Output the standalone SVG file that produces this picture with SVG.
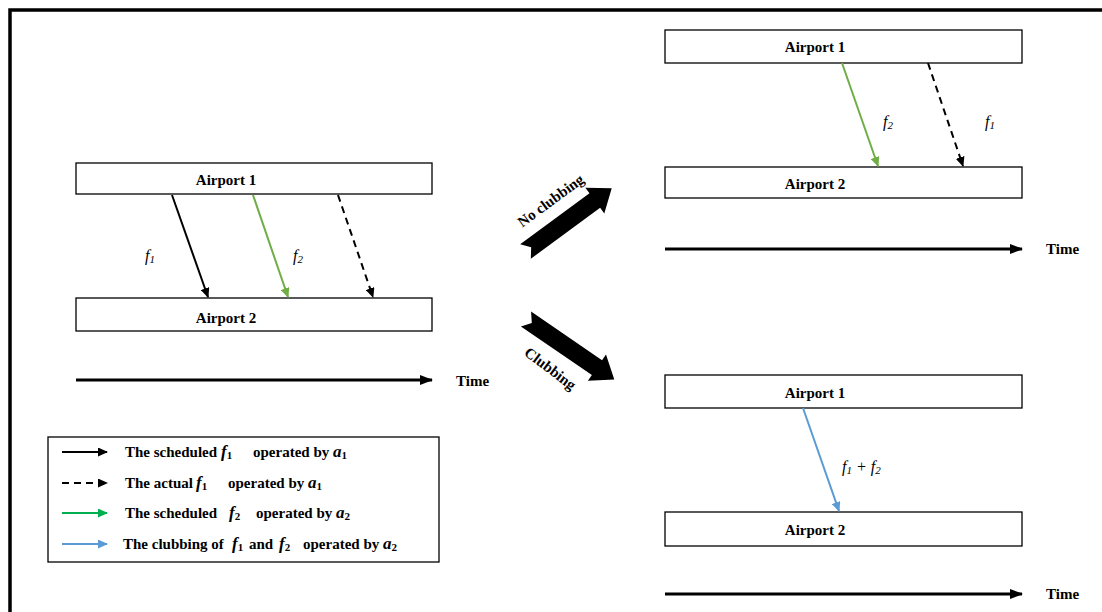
<svg xmlns="http://www.w3.org/2000/svg" width="1102" height="612" viewBox="0 0 1102 612">
<defs>
<style>
.box{fill:#fff;stroke:#000;stroke-width:1.3}
.lbl{font-family:"Liberation Serif","Times New Roman",serif;font-weight:bold;font-size:15px;fill:#000}
.math{font-family:"Liberation Serif","Times New Roman",serif;font-style:italic;font-size:16px;fill:#000}
.leg{font-family:"Liberation Serif","Times New Roman",serif;font-weight:bold;font-size:15px;fill:#000}
.mb{font-style:italic;font-weight:bold;font-size:17px}
.sub{font-size:11px}
.fl{fill:none;stroke-width:2}
.time{stroke:#000;stroke-width:3.2;fill:none}
</style>
<marker id="hk" markerUnits="userSpaceOnUse" markerWidth="10" markerHeight="9" refX="9" refY="4.5" orient="auto"><path d="M0,0 L10,4.5 L0,9 z" fill="#000"/></marker>
<marker id="hg" markerUnits="userSpaceOnUse" markerWidth="10" markerHeight="9" refX="9" refY="4.5" orient="auto"><path d="M0,0 L10,4.5 L0,9 z" fill="#70AD47"/></marker>
<marker id="hg2" markerUnits="userSpaceOnUse" markerWidth="10" markerHeight="9" refX="9" refY="4.5" orient="auto"><path d="M0,0 L10,4.5 L0,9 z" fill="#00B050"/></marker>
<marker id="hb" markerUnits="userSpaceOnUse" markerWidth="10" markerHeight="9" refX="9" refY="4.5" orient="auto"><path d="M0,0 L10,4.5 L0,9 z" fill="#5B9BD5"/></marker>
<marker id="ht" markerUnits="userSpaceOnUse" markerWidth="13" markerHeight="10" refX="12" refY="5" orient="auto"><path d="M0,0 L13,5 L0,10 z" fill="#000"/></marker>
</defs>
<rect x="10" y="10" width="1110" height="620" fill="none" stroke="#000" stroke-width="3.5"/>

<!-- Left panel -->
<g id="L-airport1"><rect class="box" x="76" y="163" width="356" height="31"/><text class="lbl" x="226" y="185" text-anchor="middle">Airport 1</text></g>
<g id="L-airport2"><rect class="box" x="76" y="298" width="356" height="33"/><text class="lbl" x="226" y="323" text-anchor="middle">Airport 2</text></g>
<g id="L-time"><line class="time" x1="76" y1="380" x2="432" y2="380" marker-end="url(#ht)"/><text class="lbl" x="456" y="386">Time</text></g>

<!-- Right top -->
<g id="RT-airport1"><rect class="box" x="665" y="30" width="357" height="33"/><text class="lbl" x="815" y="52" text-anchor="middle">Airport 1</text></g>
<g id="RT-airport2"><rect class="box" x="665" y="167" width="357" height="31"/><text class="lbl" x="815" y="189" text-anchor="middle">Airport 2</text></g>
<g id="RT-time"><line class="time" x1="665" y1="249" x2="1022" y2="249" marker-end="url(#ht)"/><text class="lbl" x="1046" y="254">Time</text></g>

<!-- Right bottom -->
<g id="RB-airport1"><rect class="box" x="665" y="375" width="357" height="33"/><text class="lbl" x="815" y="398" text-anchor="middle">Airport 1</text></g>
<g id="RB-airport2"><rect class="box" x="665" y="512" width="357" height="34"/><text class="lbl" x="815" y="535" text-anchor="middle">Airport 2</text></g>
<g id="RB-time"><line class="time" x1="665" y1="594" x2="1022" y2="594" marker-end="url(#ht)"/><text class="lbl" x="1046" y="599">Time</text></g>

<!-- Big arrows -->
<g id="no-clubbing">
<polygon transform="translate(525.5,251.5) rotate(-36.3)" points="0,-9 86,-9 86,-16 107,0 86,16 86,9 0,9 7,0" fill="#000"/>
<text class="lbl" transform="translate(553.7,204.6) rotate(-36.3)" text-anchor="middle">No clubbing</text>
</g>
<g id="clubbing">
<polygon transform="translate(526,319) rotate(34.4)" points="0,-9 86,-9 86,-16 107,0 86,16 86,9 0,9 7,0" fill="#000"/>
<text class="lbl" transform="translate(547.3,372.6) rotate(37)" text-anchor="middle">Clubbing</text>
</g>

<!-- Connectors -->
<g id="connectors">
<line class="fl" x1="172" y1="195" x2="208" y2="297" stroke="#000" marker-end="url(#hk)"/>
<line class="fl" x1="253" y1="195" x2="288" y2="297" stroke="#70AD47" marker-end="url(#hg)"/>
<line class="fl" x1="338" y1="195" x2="373" y2="297" stroke="#000" stroke-dasharray="7,5" marker-end="url(#hk)"/>
<line class="fl" x1="842" y1="63" x2="878" y2="166" stroke="#70AD47" marker-end="url(#hg)"/>
<line class="fl" x1="928" y1="63" x2="963" y2="166" stroke="#000" stroke-dasharray="7,5" marker-end="url(#hk)"/>
<line class="fl" x1="803" y1="408" x2="839" y2="511" stroke="#5B9BD5" marker-end="url(#hb)"/>
</g>

<!-- Flight labels -->
<g id="labels">
<text class="math" x="145" y="261">f<tspan class="sub" dy="2">1</tspan></text>
<text class="math" x="293" y="261">f<tspan class="sub" dy="2">2</tspan></text>
<text class="math" x="883" y="127">f<tspan class="sub" dy="2">2</tspan></text>
<text class="math" x="985" y="127">f<tspan class="sub" dy="2">1</tspan></text>
<text class="math" x="842" y="472">f<tspan class="sub" dy="2">1</tspan><tspan dy="-2"> + f</tspan><tspan class="sub" dy="2">2</tspan></text>
</g>

<!-- Legend -->
<g id="legend">
<rect x="48" y="437" width="391" height="125" fill="#fff" stroke="#000" stroke-width="1.3"/>
<line class="fl" x1="62" y1="452" x2="107" y2="452" stroke="#000" marker-end="url(#hk)"/>
<line class="fl" x1="62" y1="483" x2="107" y2="483" stroke="#000" stroke-dasharray="7,5" marker-end="url(#hk)"/>
<line class="fl" x1="62" y1="513" x2="107" y2="513" stroke="#00B050" marker-end="url(#hg2)"/>
<line class="fl" x1="62" y1="544" x2="107" y2="544" stroke="#5B9BD5" marker-end="url(#hb)"/>
<text class="leg" x="125" y="457">The scheduled<tspan class="mb" x="221">f</tspan><tspan class="sub" dy="2">1</tspan><tspan x="253" dy="-2">operated by</tspan><tspan class="mb" x="333">a</tspan><tspan class="sub" dy="2">1</tspan></text>
<text class="leg" x="125" y="488">The actual<tspan class="mb" x="196">f</tspan><tspan class="sub" dy="2">1</tspan><tspan x="228" dy="-2">operated by</tspan><tspan class="mb" x="308">a</tspan><tspan class="sub" dy="2">1</tspan></text>
<text class="leg" x="125" y="518">The scheduled<tspan class="mb" x="229">f</tspan><tspan class="sub" dy="2">2</tspan><tspan x="256" dy="-2">operated by</tspan><tspan class="mb" x="336">a</tspan><tspan class="sub" dy="2">2</tspan></text>
<text class="leg" x="123" y="549">The clubbing of<tspan class="mb" x="232">f</tspan><tspan class="sub" dy="2">1</tspan><tspan x="249" dy="-2">and</tspan><tspan class="mb" x="279">f</tspan><tspan class="sub" dy="2">2</tspan><tspan x="303" dy="-2">operated by</tspan><tspan class="mb" x="383">a</tspan><tspan class="sub" dy="2">2</tspan></text>
</g>
</svg>
